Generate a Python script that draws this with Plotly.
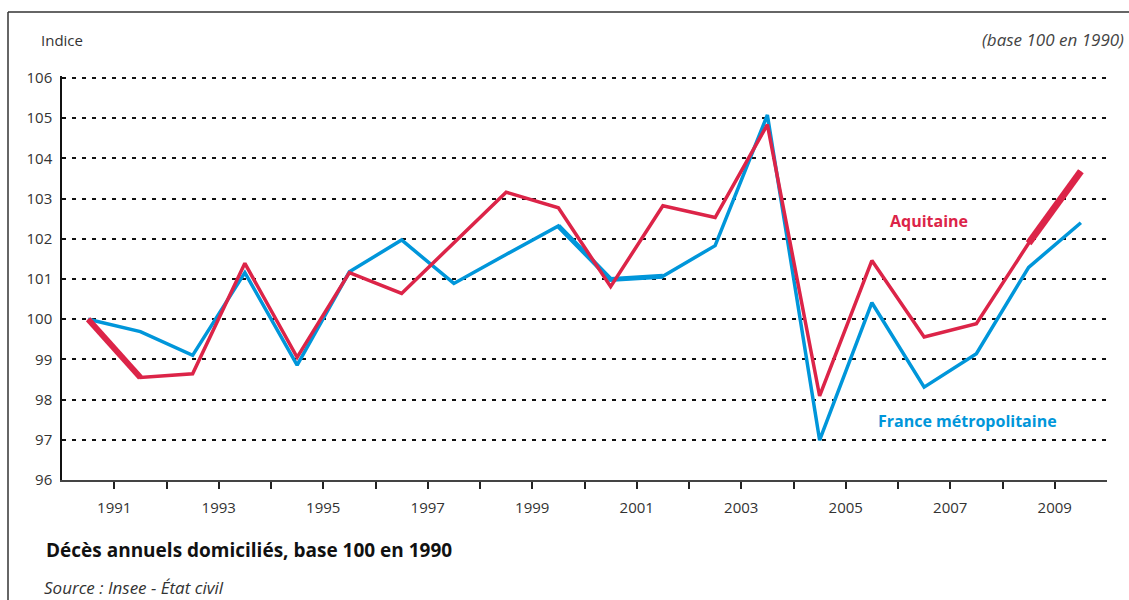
import plotly.graph_objects as go

years = list(range(1990, 2010))
france = [100.0, 99.69, 99.10, 101.16, 98.86, 101.18, 101.97, 100.89, 101.61, 102.32,
          100.99, 101.07, 101.83, 105.08, 96.99, 100.41, 98.31, 99.14, 101.29, 102.40]
aquitaine = [100.0, 98.55, 98.64, 101.39, 99.05, 101.16, 100.64, 101.90, 103.16, 102.77,
             100.81, 102.82, 102.53, 104.84, 98.09, 101.46, 99.56, 99.89, 101.89, 103.68]
y_ticks = list(range(96, 107))
x_ticks = list(range(1991, 2010))
x_labels = [str(y) if y % 2 == 1 else "" for y in x_ticks]

RED = "#DC2448"
BLUE = "#0096DA"
FONT = "Open Sans"

xs = [y + 0.5 for y in years]

# plot area geometry (pixels)
L, R, T, B = 62, 1107, 76, 480
W, H = R - L, B - T


def px(x):
    return (x - L) / W


def py(y):
    return (B - y) / H


fig = go.Figure()
fig.add_trace(go.Scatter(x=xs, y=france, mode="lines", line=dict(color=BLUE, width=3.5),
                         name="France métropolitaine", showlegend=False))
# slightly heavier blue stroke 1999-2001
fig.add_trace(go.Scatter(x=xs[9:12], y=france[9:12], mode="lines",
                         line=dict(color=BLUE, width=5), showlegend=False, hoverinfo="skip"))
fig.add_trace(go.Scatter(x=xs, y=aquitaine, mode="lines", line=dict(color=RED, width=3.5),
                         name="Aquitaine", showlegend=False))
# heavier red strokes at the ends
fig.add_trace(go.Scatter(x=xs[0:2], y=aquitaine[0:2], mode="lines",
                         line=dict(color=RED, width=6), showlegend=False, hoverinfo="skip"))
fig.add_trace(go.Scatter(x=xs[18:20], y=aquitaine[18:20], mode="lines",
                         line=dict(color=RED, width=7), showlegend=False, hoverinfo="skip"))

fig.update_layout(
    width=1129, height=600,
    margin=dict(l=L, r=1129 - R, t=T, b=600 - B),
    paper_bgcolor="white", plot_bgcolor="white",
    font=dict(family=FONT, color="#333333", size=14),
    showlegend=False,
    xaxis=dict(range=[1990, 2010], tickmode="array", tickvals=x_ticks, ticktext=x_labels,
               showgrid=False, zeroline=False, showline=True, linecolor="#444444", linewidth=2,
               ticks="outside", ticklen=7, tickwidth=1.5, tickcolor="#222222",
               ticklabelstandoff=6,
               tickfont=dict(family=FONT, size=15, color="#333333"), fixedrange=True),
    yaxis=dict(range=[96, 106.05], tickmode="array", tickvals=y_ticks,
               showgrid=True, gridcolor="#111111", gridwidth=2, griddash="4px,6px",
               zeroline=False, showline=True, linecolor="#111111", linewidth=1.5,
               ticks="", ticklabelstandoff=5,
               tickfont=dict(family=FONT, size=15, color="#333333"), fixedrange=True),
    annotations=[
        dict(text="Indice", xref="paper", yref="paper", x=px(39), y=py(40),
             xanchor="left", yanchor="middle", showarrow=False,
             font=dict(family=FONT, size=15, color="#333333")),
        dict(text="<i>(base 100 en 1990)</i>", xref="paper", yref="paper",
             x=px(1126), y=py(40),
             xanchor="right", yanchor="middle", showarrow=False,
             font=dict(family=FONT, size=17, color="#444444")),
        dict(text="<b>Aquitaine</b>", xref="paper", yref="paper",
             x=px(929), y=py(221),
             xanchor="center", yanchor="middle", showarrow=False,
             font=dict(family=FONT, size=16, color=RED)),
        dict(text="<b>France métropolitaine</b>", xref="paper", yref="paper",
             x=px(967), y=py(421),
             xanchor="center", yanchor="middle", showarrow=False,
             font=dict(family=FONT, size=16, color=BLUE)),
        dict(text="<b>Décès annuels domiciliés, base 100 en 1990</b>", xref="paper", yref="paper",
             x=px(44), y=py(550),
             xanchor="left", yanchor="middle", showarrow=False,
             font=dict(family=FONT, size=19, color="#111111")),
        dict(text="<i>Source : Insee - État civil</i>", xref="paper", yref="paper",
             x=px(42), y=py(587),
             xanchor="left", yanchor="middle", showarrow=False,
             font=dict(family=FONT, size=17, color="#333333")),
    ],
    shapes=[
        dict(type="line", xref="paper", yref="paper",
             x0=px(8), x1=px(1135), y0=py(12), y1=py(12),
             line=dict(color="#333333", width=1.5)),
        dict(type="line", xref="paper", yref="paper",
             x0=px(8), x1=px(8), y0=py(12), y1=py(605),
             line=dict(color="#333333", width=1.5)),
    ],
)

fig.write_html("out.html", config={"displayModeBar": False},
               post_script="document.body.style.margin='0';document.body.style.overflow='hidden';")
